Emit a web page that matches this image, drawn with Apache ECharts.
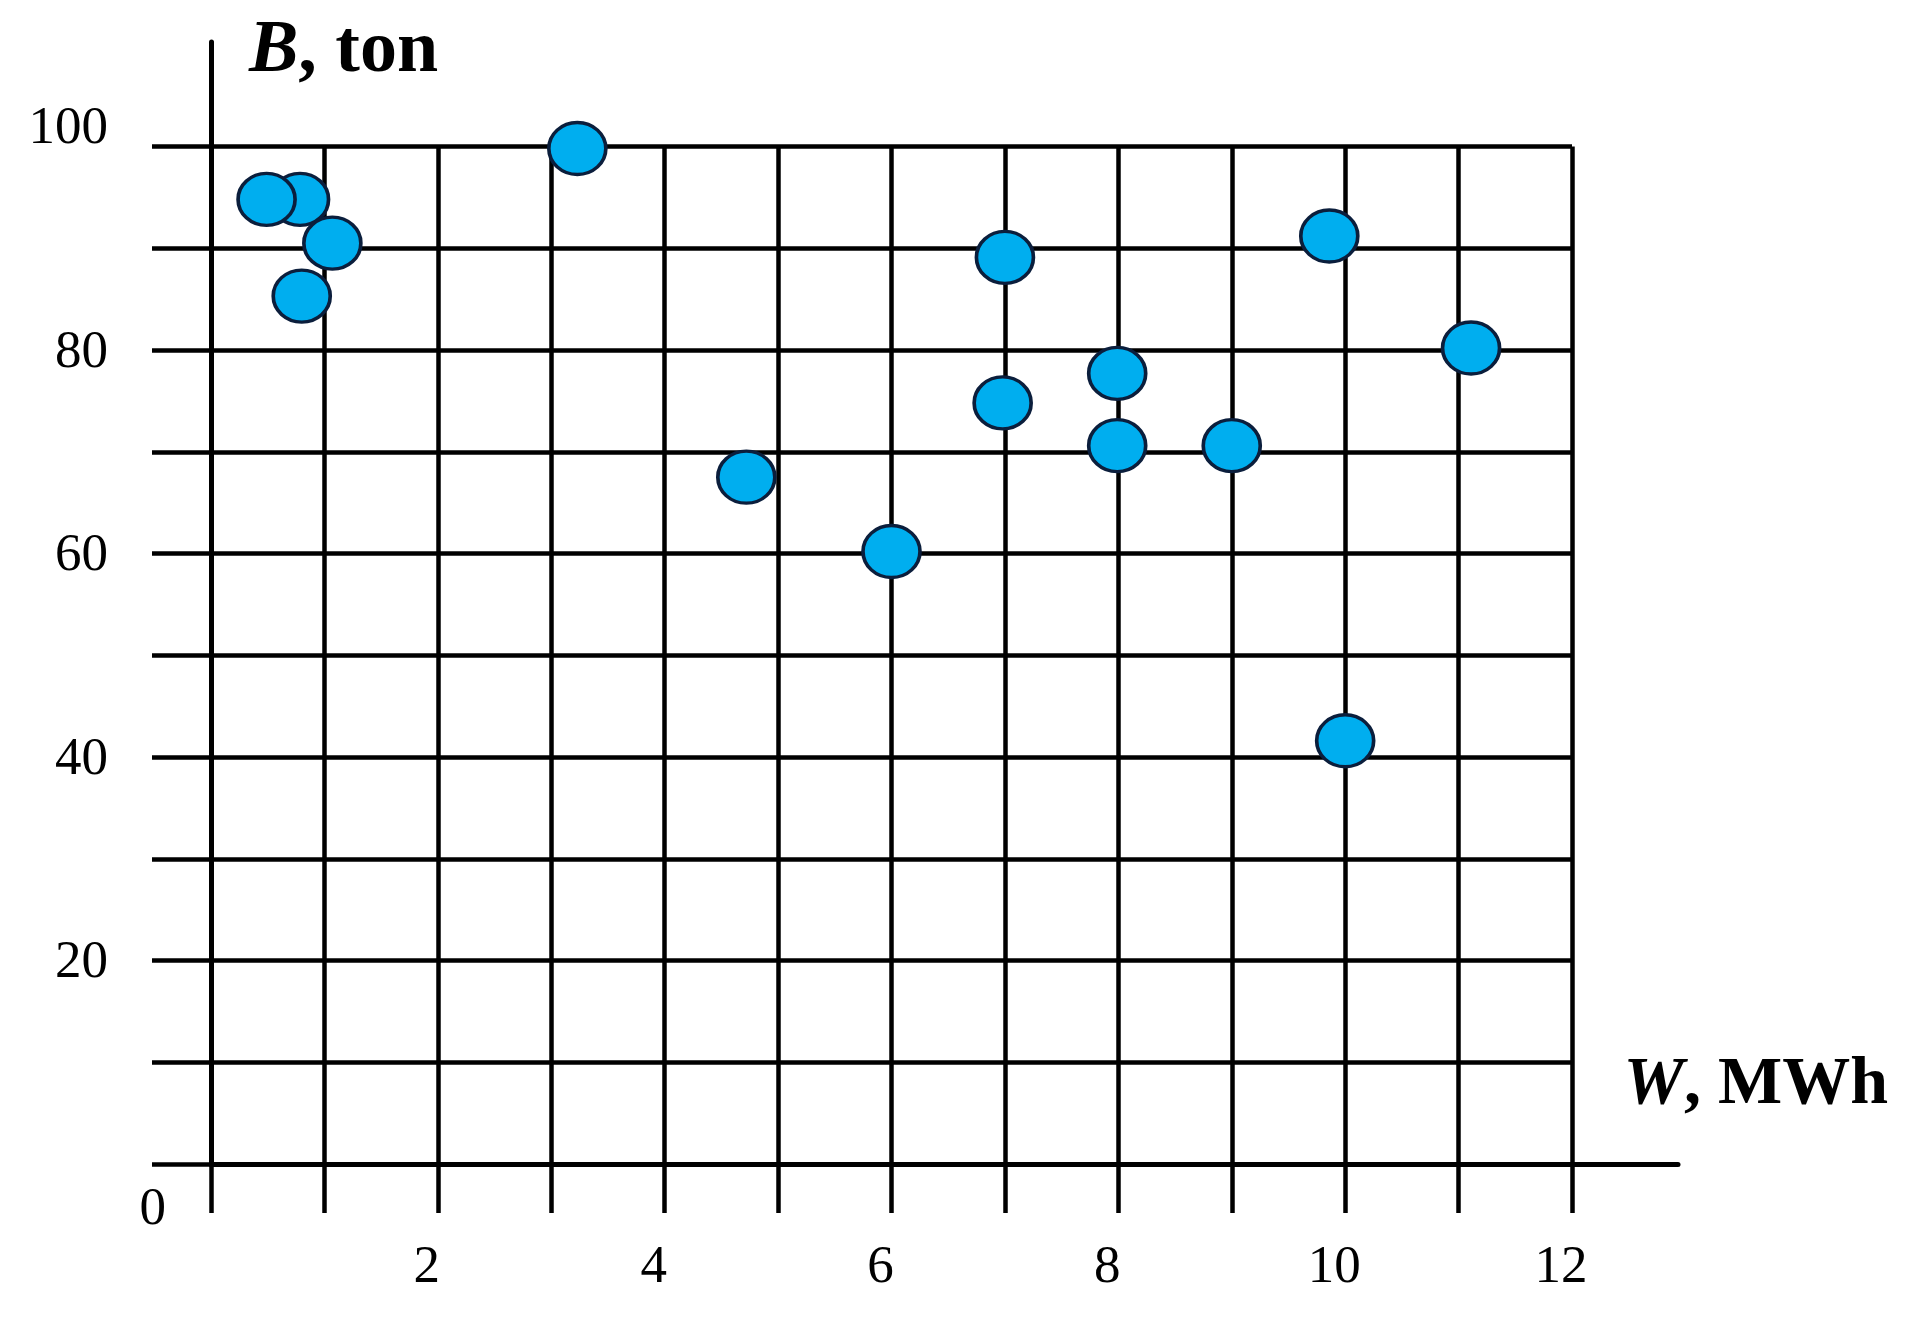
<!DOCTYPE html>
<html>
<head>
<meta charset="utf-8">
<script src="https://cdn.jsdelivr.net/npm/echarts@6/dist/echarts.min.js"></script>
<style>
  html, body { margin: 0; padding: 0; background: #fff; }
  #chart { width: 1910px; height: 1324px; }
</style>
</head>
<body>
<div id="chart"></div>
<script>
// energy W (MWh) vs mass B (ton)
const wValues = [0.785, 0.49, 1.07, 0.8, 3.23, 4.72, 6.0, 7.0, 6.98, 7.99, 7.99, 9.0, 9.86, 10.0, 11.11];
const bValues = [94.8, 94.8, 90.5, 85.3, 99.8, 67.5, 60.2, 89.1, 74.8, 77.7, 70.6, 70.6, 91.2, 41.6, 80.2];
const xTickLabels = ['2', '4', '6', '8', '10', '12'];
const yTickLabels = ['20', '40', '60', '80', '100'];
const originLabel = '0';

const font = 'Liberation Serif';
const black = '#000';

const chart = echarts.init(document.getElementById('chart'), null, { renderer: 'canvas' });

const points = wValues.map((w, i) => [w, bValues[i]]);

const option = {
  backgroundColor: '#fff',
  animation: false,
  grid: [
    // data area with the square grid
    { left: 211, right: 338, top: 146.5, bottom: 160, outerBoundsMode: 'none', containLabel: false },
    // long axis lines
    { left: 211, right: 232, top: 42, bottom: 160, outerBoundsMode: 'none', containLabel: false },
  ],
  xAxis: [
    {
      type: 'value',
      gridIndex: 0,
      min: 0,
      max: 12,
      interval: 1,
      axisLine: { show: false },
      axisTick: { show: true, length: 49, lineStyle: { color: black, width: 4.5 } },
      splitLine: { show: true, lineStyle: { color: black, width: 4.5 } },
      axisLabel: {
        margin: 78,
        fontFamily: font,
        fontSize: 53,
        color: black,
        padding: [0, 22, 0, 0],
        formatter: (v) => (xTickLabels.includes(String(v)) ? String(v) : ''),
      },
    },
    {
      type: 'value',
      gridIndex: 1,
      min: 0,
      max: 1,
      interval: 1,
      axisLine: { show: true, onZero: false, lineStyle: { color: black, width: 5 } },
      axisTick: { show: false },
      splitLine: { show: false },
      axisLabel: { show: false },
      name: '{i|W}{b|, MWh}',
      nameLocation: 'end',
      nameGap: 210,
      nameMoveOverlap: false,
      nameTextStyle: {
        align: 'right',
        verticalAlign: 'middle',
        padding: [0, 0, 158, 0],
        rich: {
          i: { fontFamily: font, fontSize: 68, fontWeight: 'bold', fontStyle: 'italic', color: black },
          b: { fontFamily: font, fontSize: 68, fontWeight: 'bold', color: black },
        },
      },
    },
  ],
  yAxis: [
    {
      type: 'value',
      gridIndex: 0,
      min: 0,
      max: 100,
      interval: 10,
      axisLine: { show: false },
      axisTick: { show: true, length: 59, lineStyle: { color: black, width: 4.5 } },
      splitLine: { show: true, lineStyle: { color: black, width: 4.5 } },
      axisLabel: {
        margin: 103,
        fontFamily: font,
        fontSize: 53,
        color: black,
        formatter: (v) => {
          const s = String(v);
          if (!yTickLabels.includes(s)) return '';
          return v === 100 ? '{top|' + s + '}' : '{n|' + s + '}';
        },
        rich: {
          n: { fontFamily: font, fontSize: 53, color: black, padding: [6, 0, 0, 0] },
          top: { fontFamily: font, fontSize: 53, color: black, padding: [0, 0, 34, 0] },
        },
      },
    },
    {
      type: 'value',
      gridIndex: 1,
      min: 0,
      max: 1,
      interval: 1,
      axisLine: { show: true, onZero: false, lineStyle: { color: black, width: 5 } },
      axisTick: { show: false },
      splitLine: { show: false },
      axisLabel: {
        margin: 45,
        formatter: (v) => (v === 0 ? '{o|' + originLabel + '}' : ''),
        rich: {
          o: { fontFamily: font, fontSize: 53, color: black, padding: [92, 0, 0, 0] },
        },
      },
      name: '{i|B}{b|, ton}',
      nameLocation: 'end',
      nameGap: -10,
      nameMoveOverlap: false,
      nameTextStyle: {
        align: 'left',
        verticalAlign: 'middle',
        padding: [0, 0, 0, 38],
        rich: {
          i: { fontFamily: font, fontSize: 74, fontWeight: 'bold', fontStyle: 'italic', color: black },
          b: { fontFamily: font, fontSize: 74, fontWeight: 'bold', color: black },
        },
      },
    },
  ],
  series: [
    {
      type: 'scatter',
      xAxisIndex: 0,
      yAxisIndex: 0,
      data: points,
      symbol: 'path://M0,50 A50,50 0 1 1 100,50 A50,50 0 1 1 0,50 Z',
      symbolSize: [57, 52],
      itemStyle: { color: '#00AEEF', borderColor: '#0B1E3C', borderWidth: 3.5, opacity: 1 },
      emphasis: { disabled: true },
      silent: true,
      z: 5,
    },
  ],
};

chart.setOption(option);
</script>
</body>
</html>
